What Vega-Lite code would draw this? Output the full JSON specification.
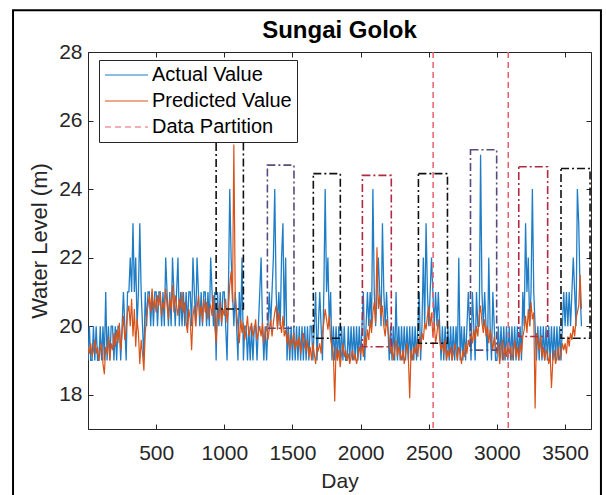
{
"$schema": "https://vega.github.io/schema/vega-lite/v6.json",
"width": 503, "height": 377,
"autosize": {"type": "none"},
"padding": {"left": 88, "top": 52, "right": 15, "bottom": 66},
"background": "white",
"title": {"text": "Sungai Golok", "font": "Liberation Sans", "fontSize": 24, "fontWeight": "bold", "color": "#000000", "offset": -34, "anchor": "middle", "frame": "group"},
"config": {
  "view": {"stroke": "#262626", "strokeWidth": 1},
  "axis": {"grid": false, "labelFont": "Liberation Sans", "titleFont": "Liberation Sans", "labelFontSize": 21, "titleFontSize": 22, "titleFontWeight": "normal", "labelColor": "#262626", "titleColor": "#262626", "tickColor": "#262626", "domainColor": "#262626", "tickSize": -5, "labelFlush": false, "labelOverlap": false}
},
"datasets": {
  "series": [
{"d":0,"a":19,"p":19.4},{"d":10,"a":20,"p":19.2},{"d":20,"a":19,"p":19.5},{"d":30,"a":19,"p":19.1},{"d":40,"a":20,"p":19.3},{"d":50,"a":19,"p":19.6},{"d":60,"a":20,"p":19.2},{"d":70,"a":19,"p":19.4},{"d":80,"a":19,"p":19.0},{"d":90,"a":20,"p":19.3},
{"d":100,"a":19,"p":19.5},{"d":110,"a":20,"p":18.9},{"d":120,"a":19,"p":18.6},{"d":130,"a":21,"p":19.4},{"d":140,"a":19,"p":19.2},{"d":150,"a":20,"p":19.7},{"d":160,"a":19,"p":19.0},{"d":170,"a":20,"p":19.5},{"d":180,"a":20,"p":19.3},{"d":190,"a":19,"p":19.8},
{"d":200,"a":20,"p":19.4},{"d":210,"a":19,"p":19.9},{"d":220,"a":20,"p":19.5},{"d":230,"a":20,"p":20.1},{"d":240,"a":19,"p":19.3},{"d":250,"a":20,"p":19.8},{"d":260,"a":21,"p":20.3},{"d":270,"a":20,"p":19.6},{"d":280,"a":19,"p":19.9},{"d":290,"a":21,"p":20.4},
{"d":300,"a":21,"p":20.6},{"d":310,"a":22,"p":20.0},{"d":320,"a":21,"p":20.8},{"d":330,"a":23,"p":19.7},{"d":340,"a":21,"p":20.5},{"d":350,"a":22,"p":19.4},{"d":360,"a":20,"p":20.2},{"d":370,"a":21,"p":19.8},{"d":380,"a":23,"p":18.9},{"d":390,"a":21,"p":19.6},
{"d":400,"a":20,"p":19.2},{"d":410,"a":19,"p":18.7},{"d":420,"a":21,"p":19.8},{"d":430,"a":20,"p":20.3},{"d":440,"a":21,"p":20.6},{"d":450,"a":21,"p":20.9},{"d":460,"a":20,"p":20.4},{"d":470,"a":21,"p":21.1},{"d":480,"a":20,"p":20.5},{"d":490,"a":21,"p":20.8},
{"d":500,"a":21,"p":20.4},{"d":510,"a":20,"p":20.9},{"d":520,"a":21,"p":20.6},{"d":530,"a":21,"p":21.0},{"d":540,"a":20,"p":20.3},{"d":550,"a":21,"p":20.7},{"d":560,"a":20,"p":20.5},{"d":570,"a":22,"p":21.1},{"d":580,"a":21,"p":20.6},{"d":590,"a":20,"p":20.2},
{"d":600,"a":21,"p":20.8},{"d":610,"a":20,"p":20.5},{"d":620,"a":22,"p":21.2},{"d":630,"a":21,"p":20.4},{"d":640,"a":20,"p":20.9},{"d":650,"a":21,"p":20.6},{"d":660,"a":22,"p":20.3},{"d":670,"a":20,"p":20.8},{"d":680,"a":21,"p":20.5},{"d":690,"a":20,"p":21.0},
{"d":700,"a":21,"p":20.4},{"d":710,"a":20,"p":20.7},{"d":720,"a":21,"p":20.1},{"d":730,"a":20,"p":19.8},{"d":740,"a":21,"p":20.5},{"d":750,"a":21,"p":20.2},{"d":760,"a":20,"p":19.3},{"d":770,"a":22,"p":20.3},{"d":780,"a":21,"p":20.6},{"d":790,"a":20,"p":20.0},
{"d":800,"a":22,"p":20.5},{"d":810,"a":21,"p":20.9},{"d":820,"a":20,"p":20.3},{"d":830,"a":21,"p":20.6},{"d":840,"a":20,"p":20.1},{"d":850,"a":21,"p":20.8},{"d":860,"a":21,"p":20.4},{"d":870,"a":20,"p":20.7},{"d":880,"a":21,"p":20.2},{"d":890,"a":20,"p":20.5},
{"d":900,"a":22,"p":20.6},{"d":910,"a":21,"p":20.3},{"d":920,"a":20,"p":20.9},{"d":930,"a":21,"p":20.0},{"d":940,"a":19,"p":19.5},{"d":950,"a":21,"p":20.4},{"d":960,"a":20,"p":20.2},{"d":970,"a":21,"p":20.7},{"d":980,"a":20,"p":20.1},{"d":990,"a":21,"p":20.5},
{"d":1000,"a":21,"p":20.3},{"d":1010,"a":20,"p":20.8},{"d":1020,"a":19,"p":20.1},{"d":1030,"a":21,"p":20.5},{"d":1040,"a":24,"p":21.2},{"d":1050,"a":22,"p":21.6},{"d":1060,"a":21,"p":20.7},{"d":1070,"a":20,"p":25.3},{"d":1080,"a":21,"p":20.9},{"d":1090,"a":20,"p":20.4},
{"d":1100,"a":19,"p":20.0},{"d":1110,"a":21,"p":19.5},{"d":1120,"a":20,"p":20.2},{"d":1130,"a":22,"p":19.8},{"d":1140,"a":19,"p":20.1},{"d":1150,"a":20,"p":19.6},{"d":1160,"a":20,"p":19.9},{"d":1170,"a":19,"p":20.3},{"d":1180,"a":20,"p":19.7},{"d":1190,"a":19,"p":19.9},
{"d":1200,"a":20,"p":20.1},{"d":1210,"a":19,"p":19.7},{"d":1220,"a":20,"p":19.9},{"d":1230,"a":20,"p":20.2},{"d":1240,"a":19,"p":19.6},{"d":1250,"a":20,"p":19.8},{"d":1260,"a":21,"p":20.0},{"d":1270,"a":22,"p":19.7},{"d":1280,"a":20,"p":20.1},{"d":1290,"a":19,"p":19.5},
{"d":1300,"a":20,"p":19.8},{"d":1310,"a":19,"p":20.0},{"d":1320,"a":20,"p":19.6},{"d":1330,"a":21,"p":19.9},{"d":1340,"a":20,"p":20.2},{"d":1350,"a":21,"p":19.7},{"d":1360,"a":22,"p":20.1},{"d":1370,"a":24,"p":20.4},{"d":1380,"a":21,"p":20.6},{"d":1390,"a":20,"p":19.9},
{"d":1400,"a":21,"p":20.4},{"d":1410,"a":20,"p":20.1},{"d":1420,"a":22,"p":19.8},{"d":1430,"a":23,"p":20.3},{"d":1440,"a":20,"p":19.7},{"d":1450,"a":22,"p":19.9},{"d":1460,"a":19,"p":19.5},{"d":1470,"a":20,"p":19.8},{"d":1480,"a":19,"p":19.3},{"d":1490,"a":20,"p":19.6},
{"d":1500,"a":19,"p":19.5},{"d":1510,"a":20,"p":19.8},{"d":1520,"a":19,"p":19.3},{"d":1530,"a":20,"p":19.6},{"d":1540,"a":19,"p":19.4},{"d":1550,"a":20,"p":19.7},{"d":1560,"a":19,"p":19.2},{"d":1570,"a":20,"p":19.5},{"d":1580,"a":19,"p":19.8},{"d":1590,"a":20,"p":19.4},
{"d":1600,"a":19,"p":19.3},{"d":1610,"a":20,"p":19.6},{"d":1620,"a":19,"p":19.1},{"d":1630,"a":20,"p":19.4},{"d":1640,"a":20,"p":19.0},{"d":1650,"a":19,"p":19.5},{"d":1660,"a":20,"p":19.2},{"d":1670,"a":21,"p":18.9},{"d":1680,"a":19,"p":19.4},{"d":1690,"a":20,"p":19.3},
{"d":1700,"a":21,"p":19.5},{"d":1710,"a":20,"p":19.2},{"d":1720,"a":19,"p":19.8},{"d":1730,"a":21,"p":20.1},{"d":1740,"a":24,"p":20.5},{"d":1750,"a":21,"p":20.2},{"d":1760,"a":22,"p":19.9},{"d":1770,"a":20,"p":20.3},{"d":1780,"a":21,"p":19.6},{"d":1790,"a":19,"p":19.4},
{"d":1800,"a":20,"p":19.2},{"d":1810,"a":19,"p":17.8},{"d":1820,"a":20,"p":19.4},{"d":1830,"a":19,"p":19.0},{"d":1840,"a":20,"p":19.3},{"d":1850,"a":19,"p":18.8},{"d":1860,"a":20,"p":19.2},{"d":1870,"a":19,"p":19.5},{"d":1880,"a":20,"p":19.1},{"d":1890,"a":19,"p":19.3},
{"d":1900,"a":19,"p":19.0},{"d":1910,"a":20,"p":19.2},{"d":1920,"a":19,"p":18.9},{"d":1930,"a":20,"p":19.1},{"d":1940,"a":19,"p":19.3},{"d":1950,"a":20,"p":19.0},{"d":1960,"a":19,"p":19.2},{"d":1970,"a":20,"p":18.9},{"d":1980,"a":19,"p":19.1},{"d":1990,"a":20,"p":19.4},
{"d":2000,"a":19,"p":19.2},{"d":2010,"a":20,"p":19.5},{"d":2020,"a":21,"p":19.1},{"d":2030,"a":19,"p":19.7},{"d":2040,"a":20,"p":19.4},{"d":2050,"a":21,"p":19.9},{"d":2060,"a":20,"p":19.6},{"d":2070,"a":21,"p":20.2},{"d":2080,"a":20,"p":19.8},{"d":2090,"a":24,"p":20.4},
{"d":2100,"a":21,"p":20.7},{"d":2110,"a":20,"p":20.1},{"d":2120,"a":21,"p":22.3},{"d":2130,"a":22,"p":20.5},{"d":2140,"a":21,"p":20.9},{"d":2150,"a":20,"p":20.3},{"d":2160,"a":23,"p":20.6},{"d":2170,"a":21,"p":20.0},{"d":2180,"a":20,"p":19.7},{"d":2190,"a":21,"p":20.2},
{"d":2200,"a":20,"p":19.9},{"d":2210,"a":19,"p":19.6},{"d":2220,"a":20,"p":19.2},{"d":2230,"a":19,"p":19.5},{"d":2240,"a":20,"p":19.0},{"d":2250,"a":19,"p":19.3},{"d":2260,"a":21,"p":19.6},{"d":2270,"a":19,"p":19.1},{"d":2280,"a":20,"p":19.4},{"d":2290,"a":19,"p":19.2},
{"d":2300,"a":20,"p":19.0},{"d":2310,"a":19,"p":19.3},{"d":2320,"a":20,"p":18.9},{"d":2330,"a":19,"p":19.2},{"d":2340,"a":20,"p":19.5},{"d":2350,"a":19,"p":19.1},{"d":2360,"a":20,"p":17.9},{"d":2370,"a":19,"p":19.3},{"d":2380,"a":20,"p":19.0},{"d":2390,"a":19,"p":19.4},
{"d":2400,"a":20,"p":19.2},{"d":2410,"a":19,"p":19.5},{"d":2420,"a":20,"p":19.1},{"d":2430,"a":21,"p":19.7},{"d":2440,"a":19,"p":19.3},{"d":2450,"a":20,"p":19.8},{"d":2460,"a":22,"p":19.6},{"d":2470,"a":20,"p":20.1},{"d":2480,"a":23,"p":19.9},{"d":2490,"a":21,"p":20.3},
{"d":2500,"a":20,"p":20.6},{"d":2510,"a":21,"p":20.0},{"d":2520,"a":22,"p":20.4},{"d":2530,"a":21,"p":19.7},{"d":2540,"a":20,"p":20.1},{"d":2550,"a":21,"p":19.5},{"d":2560,"a":20,"p":19.8},{"d":2570,"a":21,"p":20.2},{"d":2580,"a":20,"p":19.6},{"d":2590,"a":19,"p":19.3},
{"d":2600,"a":20,"p":19.5},{"d":2610,"a":19,"p":19.2},{"d":2620,"a":20,"p":19.6},{"d":2630,"a":19,"p":19.0},{"d":2640,"a":20,"p":19.3},{"d":2650,"a":19,"p":19.1},{"d":2660,"a":20,"p":19.4},{"d":2670,"a":19,"p":19.0},{"d":2680,"a":20,"p":19.2},{"d":2690,"a":19,"p":19.5},
{"d":2700,"a":20,"p":19.3},{"d":2710,"a":19,"p":19.0},{"d":2720,"a":22,"p":19.4},{"d":2730,"a":19,"p":19.2},{"d":2740,"a":20,"p":18.9},{"d":2750,"a":19,"p":19.3},{"d":2760,"a":20,"p":19.1},{"d":2770,"a":19,"p":19.5},{"d":2780,"a":20,"p":19.2},{"d":2790,"a":21,"p":19.6},
{"d":2800,"a":20,"p":19.4},{"d":2810,"a":19,"p":19.8},{"d":2820,"a":21,"p":19.5},{"d":2830,"a":20,"p":19.9},{"d":2840,"a":19,"p":19.6},{"d":2850,"a":21,"p":20.0},{"d":2860,"a":20,"p":19.7},{"d":2870,"a":20,"p":20.3},{"d":2880,"a":25,"p":20.6},{"d":2890,"a":21,"p":20.1},
{"d":2900,"a":20,"p":19.8},{"d":2910,"a":21,"p":20.2},{"d":2920,"a":20,"p":19.7},{"d":2930,"a":19,"p":20.0},{"d":2940,"a":22,"p":19.5},{"d":2950,"a":20,"p":19.9},{"d":2960,"a":19,"p":19.6},{"d":2970,"a":21,"p":19.3},{"d":2980,"a":20,"p":19.7},{"d":2990,"a":19,"p":19.4},
{"d":3000,"a":19,"p":19.2},{"d":3010,"a":20,"p":19.5},{"d":3020,"a":19,"p":18.9},{"d":3030,"a":20,"p":19.3},{"d":3040,"a":19,"p":19.6},{"d":3050,"a":20,"p":19.0},{"d":3060,"a":19,"p":19.4},{"d":3070,"a":20,"p":19.1},{"d":3080,"a":19,"p":19.5},{"d":3090,"a":20,"p":19.2},
{"d":3100,"a":19,"p":19.4},{"d":3110,"a":20,"p":19.0},{"d":3120,"a":19,"p":19.3},{"d":3130,"a":20,"p":19.6},{"d":3140,"a":19,"p":19.1},{"d":3150,"a":20,"p":19.4},{"d":3160,"a":19,"p":19.0},{"d":3170,"a":20,"p":19.5},{"d":3180,"a":19,"p":19.2},{"d":3190,"a":21,"p":19.7},
{"d":3200,"a":20,"p":19.9},{"d":3210,"a":23,"p":20.3},{"d":3220,"a":21,"p":19.8},{"d":3230,"a":22,"p":20.5},{"d":3240,"a":20,"p":20.0},{"d":3250,"a":21,"p":20.7},{"d":3260,"a":24,"p":20.2},{"d":3270,"a":21,"p":20.4},{"d":3280,"a":20,"p":17.6},{"d":3290,"a":19,"p":19.8},
{"d":3300,"a":20,"p":19.6},{"d":3310,"a":19,"p":19.3},{"d":3320,"a":20,"p":19.7},{"d":3330,"a":19,"p":19.1},{"d":3340,"a":20,"p":19.4},{"d":3350,"a":19,"p":19.0},{"d":3360,"a":20,"p":19.3},{"d":3370,"a":19,"p":19.2},{"d":3380,"a":20,"p":18.9},{"d":3390,"a":19,"p":19.2},
{"d":3400,"a":20,"p":18.2},{"d":3410,"a":19,"p":19.0},{"d":3420,"a":20,"p":19.3},{"d":3430,"a":19,"p":18.9},{"d":3440,"a":20,"p":19.1},{"d":3450,"a":19,"p":19.4},{"d":3460,"a":20,"p":19.0},{"d":3470,"a":19,"p":19.2},{"d":3480,"a":20,"p":19.5},{"d":3490,"a":21,"p":19.3},
{"d":3500,"a":20,"p":19.5},{"d":3510,"a":21,"p":19.2},{"d":3520,"a":20,"p":19.7},{"d":3530,"a":21,"p":19.4},{"d":3540,"a":20,"p":19.8},{"d":3550,"a":21,"p":19.6},{"d":3560,"a":22,"p":20.0},{"d":3570,"a":21,"p":19.7},{"d":3580,"a":20,"p":20.2},{"d":3590,"a":24,"p":20.4},
{"d":3600,"a":23,"p":20.6},{"d":3610,"a":21,"p":21.5},{"d":3620,"a":20,"p":20.5}
  ],
  "boxes": [
{"x1":940,"x2":1140,"y1":20.5,"y2":25.5,"k":"b"},
{"x1":1316,"x2":1511,"y1":19.94,"y2":24.7,"k":"p"},
{"x1":1653,"x2":1851,"y1":19.65,"y2":24.45,"k":"b"},
{"x1":2013,"x2":2225,"y1":19.4,"y2":24.4,"k":"r"},
{"x1":2424,"x2":2637,"y1":19.5,"y2":24.45,"k":"b"},
{"x1":2806,"x2":2998,"y1":19.3,"y2":25.15,"k":"p"},
{"x1":3160,"x2":3372,"y1":19.7,"y2":24.65,"k":"r"},
{"x1":3470,"x2":3683,"y1":19.65,"y2":24.6,"k":"b"}
  ],
  "partitions": [{"x": 2532}, {"x": 3083}]
},
"resolve": {"axis": {"x": "independent", "y": "independent"}},
"layer": [
  {
    "data": {"name": "series"},
    "mark": {"type": "line", "strokeWidth": 1.3, "clip": true},
    "encoding": {
      "x": {"field": "d", "type": "quantitative", "scale": {"domain": [0, 3690], "nice": false, "zero": false},
            "axis": {"values": [500, 1000, 1500, 2000, 2500, 3000, 3500], "format": "d", "title": "Day", "labelPadding": 18, "titlePadding": 7, "titleFontSize": 21}},
      "y": {"field": "a", "type": "quantitative", "scale": {"domain": [17, 28], "nice": false, "zero": false},
            "axis": {"values": [18, 20, 22, 24, 26, 28], "format": "d", "title": "Water Level (m)", "labelPadding": 11, "titlePadding": 7}},
      "color": {"datum": "Actual Value", "type": "nominal",
                "scale": {"domain": ["Actual Value", "Predicted Value", "Data Partition"], "range": ["#1f7dc6", "#D95319", "#E8606A"]},
                "legend": {"title": null, "orient": "none", "legendX": 11, "legendY": 8, "strokeColor": "#262626", "fillColor": "white", "padding": 5, "symbolType": "stroke", "symbolSize": 1849, "symbolStrokeWidth": 1.2, "clipHeight": 20, "rowPadding": 6, "labelFont": "Liberation Sans", "labelFontSize": 20, "labelColor": "#000000", "labelOffset": 3, "labelLimit": 300}},
      "strokeDash": {"datum": "Actual Value", "type": "nominal",
                "scale": {"domain": ["Actual Value", "Predicted Value", "Data Partition"], "range": [[1, 0], [1, 0], [6, 4]]},
                "legend": {"title": null, "orient": "none", "legendX": 11, "legendY": 8, "strokeColor": "#262626", "fillColor": "white", "padding": 5, "symbolType": "stroke", "symbolSize": 1849, "symbolStrokeWidth": 1.2, "clipHeight": 20, "rowPadding": 6, "labelFont": "Liberation Sans", "labelFontSize": 20, "labelColor": "#000000", "labelOffset": 3, "labelLimit": 300}}
    }
  },
  {
    "data": {"name": "series"},
    "mark": {"type": "line", "strokeWidth": 1.2, "clip": true},
    "encoding": {
      "x": {"field": "d", "type": "quantitative", "axis": {"orient": "top", "values": [500, 1000, 1500, 2000, 2500, 3000, 3500], "labels": false, "title": null, "domain": false}},
      "y": {"field": "p", "type": "quantitative", "axis": {"orient": "right", "values": [18, 20, 22, 24, 26, 28], "labels": false, "title": null, "domain": false}},
      "color": {"datum": "Predicted Value", "type": "nominal"},
      "strokeDash": {"datum": "Predicted Value", "type": "nominal"}
    }
  },
  {
    "data": {"name": "partitions"},
    "mark": {"type": "rule", "strokeWidth": 1.5},
    "encoding": {
      "x": {"field": "x", "type": "quantitative", "axis": null},
      "color": {"datum": "Data Partition", "type": "nominal"},
      "strokeDash": {"datum": "Data Partition", "type": "nominal"}
    }
  },
  {
    "data": {"name": "boxes"},
    "mark": {"type": "rect", "filled": false, "strokeWidth": 1.6, "strokeDash": [8, 3, 2, 3]},
    "encoding": {
      "x": {"field": "x1", "type": "quantitative", "axis": null},
      "x2": {"field": "x2"},
      "y": {"field": "y1", "type": "quantitative", "axis": null},
      "y2": {"field": "y2"},
      "stroke": {"field": "k", "type": "nominal", "scale": {"domain": ["b", "p", "r"], "range": ["#111111", "#5b4a7d", "#b02a40"]}, "legend": null}
    }
  },
  {
    "data": {"values": [{}]},
    "mark": {"type": "rect", "filled": false, "stroke": "#000000", "strokeWidth": 2, "clip": false},
    "encoding": {
      "x": {"datum": -550, "type": "quantitative", "axis": null},
      "x2": {"datum": 3763},
      "y": {"datum": 29.22, "type": "quantitative", "axis": null},
      "y2": {"datum": 14.9}
    }
  }
]
}
